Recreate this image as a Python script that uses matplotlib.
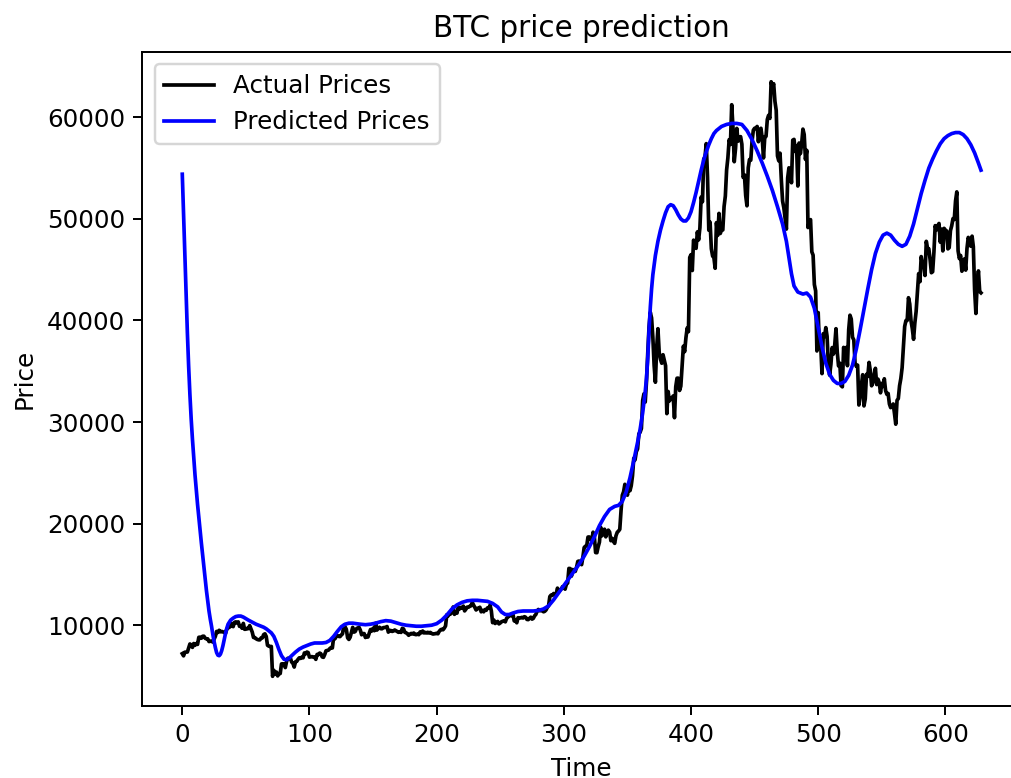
import numpy as np
import matplotlib
matplotlib.use('Agg')
import matplotlib.pyplot as plt

# Daily BTC closing prices (USD), one list per month
jan_2020 = [7200, 6985, 7345, 7357, 7359, 7759, 8155, 8059, 7819, 8197,
            8021, 8193, 8110, 8811, 8821, 8720, 8914, 8917, 8710, 8660,
            8660, 8390, 8420, 8435, 8340, 8615, 8900, 9390, 9290, 9500,
            9350]
feb_2020 = [9390, 9340, 9290, 9180, 9620, 9730, 9800, 9900, 10170, 9860,
            10270, 10330, 10210, 10330, 9890, 9930, 9700, 10180, 9600, 9610,
            9690, 9660, 9960, 9650, 9320, 8790, 8790, 8670, 8600]
mar_2020 = [8560, 8560, 8750, 8760, 9080, 9150, 8890, 8030, 7940, 7910,
            7910, 4970, 5560, 5200, 5390, 5010, 5230, 5240, 6190, 6200,
            6190, 5830, 6420, 6750, 6740, 6770, 6370, 6260, 5880, 6400,
            6440]
apr_2020 = [6640, 6790, 6730, 6860, 6790, 7270, 7180, 7360, 7300, 6860,
            6880, 6910, 6860, 6880, 6640, 7120, 7100, 7260, 7190, 6880,
            6840, 7120, 7480, 7510, 7550, 7700, 7800, 7760, 8800, 8660]
may_2020 = [8870, 8990, 8900, 8880, 9030, 9150, 9990, 9840, 9590, 8760,
            8600, 8820, 9320, 9790, 9320, 9380, 9670, 9730, 9790, 9510,
            9060, 9170, 9180, 8790, 8900, 8840, 9200, 9580, 9430, 9700,
            9460]
jun_2020 = [10200, 9520, 9660, 9800, 9660, 9650, 9760, 9780, 9790, 9870,
            9320, 9480, 9480, 9390, 9430, 9530, 9460, 9380, 9300, 9360,
            9290, 9690, 9630, 9300, 9250, 9160, 9010, 9120, 9190, 9140]
jul_2020 = [9230, 9090, 9070, 9130, 9070, 9340, 9250, 9430, 9240, 9290,
            9240, 9300, 9240, 9290, 9200, 9130, 9150, 9170, 9210, 9160,
            9390, 9540, 9600, 9550, 9710, 9930, 11030, 10910, 11100, 11110,
            11320]
aug_2020 = [11800, 11070, 11230, 11190, 11780, 11600, 11750, 11680, 11880,
            11410, 11580, 11780, 11770, 11860, 11910, 12250, 11990, 11760,
            11500, 11660, 11650, 11770, 11320, 11460, 11320, 11540, 11470, 11710,
            11680]
sep_2020 = [11970, 11410, 10250, 10510, 10170, 10280, 10370, 10130, 10220, 10340,
            10390, 10440, 10330, 10680, 10790, 10950, 10940, 10940, 11080,
            10420, 10530, 10240, 10740, 10690, 10730, 10770, 10710, 10840, 10780]
oct_2020 = [10570, 10550, 10670, 10790, 10600, 10670, 10920, 11060,
            11380, 11550, 11430, 11430, 11500, 11320, 11370, 11500, 11750, 11910,
            12820, 12970, 12930, 13120, 13030, 13070, 13650, 13270, 13460, 13560,
            13800]
nov_2020 = [13740, 13550, 14030, 14150, 15590, 15580, 14830, 15480, 15330, 15300,
            15700, 16280, 16320, 16070, 15960, 16720, 17650, 17780, 17820, 18680,
            18690, 18420, 18370, 19160, 18720, 17150, 17140, 17720, 18180, 19630]
dec_2020 = [18800, 19200, 19450, 18700, 19150, 19360, 19170, 18320, 18550, 18260,
            18060, 18800, 19150, 19270, 19440, 21310, 22800, 23140, 23870, 23480,
            22800, 23780, 23240, 23730, 24710, 26440, 26280, 27080, 27360, 28840,
            29000]
jan_2021 = [29370, 32130, 32780, 31970, 33990, 36820, 39370, 40800, 40250, 38350,
            35570, 33920, 37320, 39190, 36830, 36180, 35790, 36630, 36070, 35550,
            30830, 33010, 32080, 32290, 32370, 32570, 30430, 33470, 34320, 34320,
            33110]
feb_2021 = [33540, 35510, 37470, 36930, 38290, 39260, 38900, 46200, 46480, 44920,
            47910, 47500, 47100, 48720, 47940, 49130, 52150, 51680, 55890, 56100,
            57410, 54090, 48890, 49680, 47060, 46340, 46190, 45140]
mar_2021 = [49630, 48380, 50540, 48560, 48930, 48910, 51210, 52250, 54820, 56010,
            57800, 57330, 61240, 59000, 55630, 56900, 58910, 57650, 58030, 58100,
            57350, 54090, 54340, 52300, 51290, 55030, 55850, 55780, 57630, 58730,
            58920]
apr_2021 = [58920, 59100, 57600, 58760, 58920, 57930, 56000, 58060, 58130, 59790,
            60200, 59890, 63500, 62970, 63310, 61570, 60680, 56200, 55720, 56470,
            53900, 51760, 51090, 50050, 49000, 54020, 55030, 54820, 53560, 57750]
may_2021 = [57830, 56630, 57210, 53240, 57470, 56430, 57390, 58840, 58310, 55860,
            56750, 49150, 49720, 49930, 46760, 46430, 43540, 42910, 37000, 40780,
            37300, 37540, 34770, 38700, 38400, 39300, 38440, 35690, 34620, 35680,
            37330]
jun_2021 = [36690, 37570, 39190, 36890, 35520, 35800, 33590, 33470, 37350, 36690,
            37340, 35550, 39100, 40520, 40140, 38350, 38090, 35820, 35480, 35600,
            31680, 32510, 33680, 34660, 31590, 32280, 34700, 34490, 35870, 35040]
jul_2021 = [33570, 33900, 34660, 35290, 33690, 34230, 33860, 32880, 33810, 33510,
            34260, 33090, 32730, 32820, 31780, 31420, 31530, 31780, 30840, 29790,
            32140, 32310, 33580, 34290, 35350, 37340, 39410, 39990, 40010, 42240,
            41630]
aug_2021 = [39970, 39200, 38150, 39750, 40870, 42820, 44610, 43820, 46290, 45600,
            45590, 44430, 47790, 47100, 47050, 46000, 44700, 44800, 46720, 49340,
            48910, 49320, 49550, 47710, 48990, 46850, 49070, 48900, 48810, 47050,
            47170]
sep_2021 = [48850, 49330, 50030, 49940, 51770, 52660, 46860, 46090, 46400, 44850,
            45160, 46060, 44960, 47090, 48180, 47780, 47310, 48300, 47260, 43010,
            40690, 43570, 44880, 42840, 42720]

# Model output on the test set (sampled days)
pred_days = [0, 1, 2, 3, 4, 5, 6, 7, 8, 9,
             10, 11, 12, 13, 14, 15, 16, 17, 18, 19,
             20, 21, 22, 23, 24, 25, 26, 27, 28, 29,
             30, 31, 32, 33, 34, 35, 36, 38, 40, 42,
             44, 46, 48, 50, 52, 55, 58, 61, 64, 66,
             68, 70, 72, 74, 76, 78, 80, 82, 84, 86,
             89, 92, 95, 98, 101, 104, 107, 110, 113, 116,
             119, 122, 125, 128, 131, 134, 137, 140, 144, 148,
             152, 156, 160, 164, 168, 172, 176, 180, 184, 188,
             192, 196, 200, 204, 208, 212, 216, 220, 224, 228,
             232, 236, 240, 244, 248, 251, 254, 257, 260, 264,
             268, 272, 276, 280, 284, 288, 292, 296, 300, 304,
             308, 312, 316, 320, 324, 328, 332, 336, 340, 343,
             346, 349, 352, 355, 358, 360, 362, 364, 365, 366,
             367, 368, 369, 370, 372, 374, 376, 378, 380, 382,
             384, 386, 388, 390, 392, 394, 396, 398, 400, 402,
             404, 406, 408, 410, 412, 414, 416, 418, 420, 424,
             428, 432, 436, 440, 444, 448, 452, 456, 460, 464,
             468, 472, 475, 477, 479, 481, 484, 488, 491, 494,
             497, 500, 503, 506, 509, 512, 515, 518, 521, 524,
             527, 530, 533, 536, 539, 542, 545, 548, 551, 554,
             557, 560, 563, 566, 569, 572, 575, 578, 581, 584,
             587, 590, 593, 596, 599, 602, 605, 608, 611, 614,
             617, 620, 623, 626, 628]
pred_prices = [54400, 50500, 46500, 42600, 38800, 35500, 32700, 30300, 28300, 26500,
               24800, 23300, 21900, 20600, 19300, 18100, 16900, 15700, 14500, 13400,
               12400, 11400, 10600, 9900, 9100, 8400, 7800, 7300, 7050, 7000,
               7150, 7500, 8000, 8600, 9200, 9700, 10100, 10500, 10700, 10850,
               10900, 10900, 10800, 10650, 10500, 10300, 10100, 9950, 9800, 9650,
               9450, 9250, 8900, 8300, 7600, 7000, 6650, 6600, 6750, 7000,
               7350, 7650, 7850, 8000, 8150, 8250, 8250, 8250, 8300, 8500,
               8900, 9400, 9850, 10100, 10200, 10200, 10150, 10100, 10050, 10100,
               10200, 10350, 10450, 10400, 10250, 10100, 10000, 9950, 9900, 9900,
               9950, 10000, 10150, 10500, 11000, 11600, 12000, 12250, 12400, 12450,
               12450, 12400, 12350, 12150, 11800, 11300, 11050, 11050, 11200, 11350,
               11400, 11400, 11400, 11450, 11600, 11900, 12500, 13200, 13900, 14600,
               15300, 16000, 16800, 17700, 18700, 19800, 20700, 21400, 21700, 21800,
               22200, 23100, 24500, 26200, 28000, 29300, 30900, 33000, 34300, 36300,
               39000, 41300, 43100, 44500, 46400, 47800, 48900, 49800, 50600, 51200,
               51400, 51300, 50900, 50400, 50000, 49800, 49800, 50100, 50700, 51600,
               52600, 53700, 54800, 55800, 56600, 57300, 57900, 58400, 58700, 59100,
               59300, 59400, 59400, 59300, 58700, 57800, 56700, 55500, 54200, 52800,
               51200, 49500, 47800, 46200, 44600, 43400, 42800, 42600, 42700, 42300,
               41200, 39300, 37400, 35800, 34700, 34100, 33800, 33800, 34000, 34600,
               35600, 37200, 39100, 41100, 43100, 45000, 46600, 47700, 48400, 48600,
               48400, 47900, 47500, 47300, 47500, 48300, 49500, 51000, 52500, 53800,
               55000, 55900, 56700, 57400, 57900, 58200, 58400, 58500, 58500, 58300,
               57900, 57300, 56500, 55500, 54800]

actual_prices = (jan_2020 + feb_2020 + mar_2020 + apr_2020 + may_2020 + jun_2020
                 + jul_2020 + aug_2020 + sep_2020 + oct_2020 + nov_2020 + dec_2020
                 + jan_2021 + feb_2021 + mar_2021 + apr_2021 + may_2021 + jun_2021
                 + jul_2021 + aug_2021 + sep_2021)
print(len(actual_prices), len(pred_days), len(pred_prices))

fig = plt.figure(figsize=(1011 / 177, 778 / 177), dpi=177)
ax = fig.add_axes([0.1408, 0.0925, 0.869, 0.8406])
ax.plot(np.arange(len(actual_prices)), actual_prices, color='black', label='Actual Prices')
ax.plot(pred_days, pred_prices, color='blue', label='Predicted Prices')
ax.set_title('BTC price prediction')
ax.set_xlabel('Time')
ax.set_ylabel('Price')
ax.legend(loc='upper left')
fig.savefig('out.png', dpi=177)
